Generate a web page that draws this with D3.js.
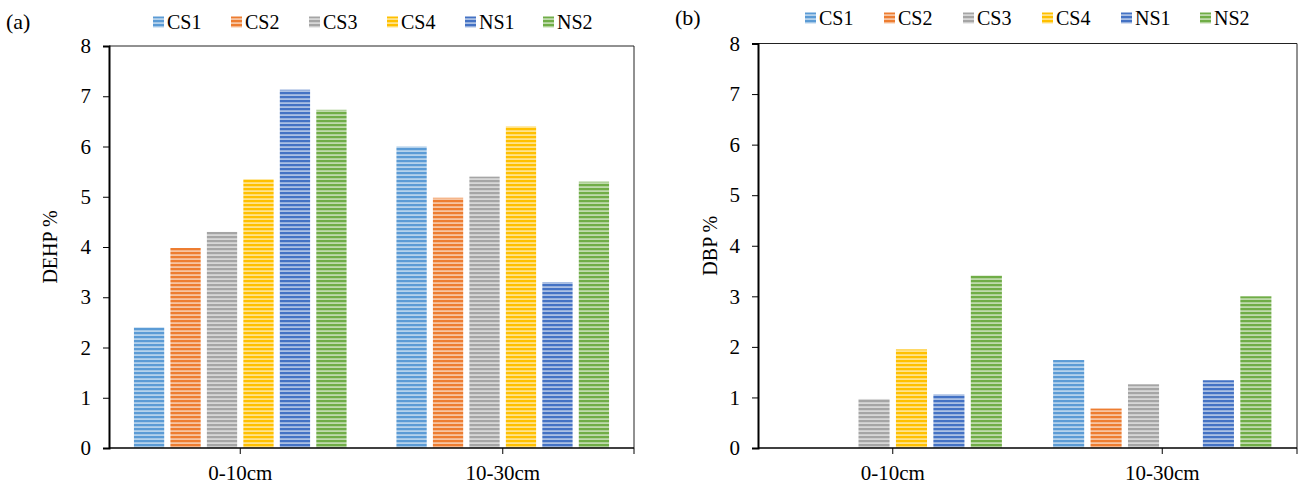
<!DOCTYPE html>
<html>
<head>
<meta charset="utf-8">
<style>
  body { margin: 0; background: #fff; }
  svg text { font-family: "Liberation Serif", "Times New Roman", serif; fill: #000; }
</style>
</head>
<body>
<div id="chart"></div>
<script src="https://cdn.jsdelivr.net/npm/d3@7/dist/d3.min.js"></script>
<script>
const series = ['CS1', 'CS2', 'CS3', 'CS4', 'NS1', 'NS2'];
const depths = ['0-10cm', '10-30cm'];
const colors = ['#5B9BD5', '#ED7D31', '#A5A5A5', '#FFC000', '#4472C4', '#70AD47'];
const yTicks = [0, 1, 2, 3, 4, 5, 6, 7, 8];

// values per series, [0-10cm, 10-30cm]
const dehp = {
  CS1: [2.40, 6.00],
  CS2: [3.98, 4.98],
  CS3: [4.30, 5.40],
  CS4: [5.35, 6.40],
  NS1: [7.13, 3.30],
  NS2: [6.73, 5.30]
};
const dbp = {
  CS1: [0, 1.74],
  CS2: [0, 0.78],
  CS3: [0.97, 1.26],
  CS4: [1.95, 0],
  NS1: [1.06, 1.34],
  NS2: [3.41, 3.00]
};

const W = 1299, H = 484;
const svg = d3.select('#chart').append('svg')
  .attr('width', W).attr('height', H);

// stripe patterns
const defs = svg.append('defs');
series.forEach((s, i) => {
  const p = defs.append('pattern')
    .attr('id', 'pat' + i)
    .attr('patternUnits', 'userSpaceOnUse')
    .attr('width', 8).attr('height', 4);
  p.append('rect').attr('width', 8).attr('height', 4)
    .attr('fill', d3.interpolateRgb(colors[i], '#fff')(0.55));
  p.append('rect').attr('width', 8).attr('height', 2.2)
    .attr('fill', colors[i]);
});

function panel(cfg) {
  const g = svg.append('g');
  const x0 = d3.scaleBand().domain(depths)
    .range([cfg.left, cfg.right]).paddingInner(0.19).paddingOuter(0.095);
  const x1 = d3.scaleBand().domain(series)
    .range([0, x0.bandwidth()]).paddingInner(0.17);
  const y = d3.scaleLinear().domain([0, 8]).range([cfg.bottom, cfg.top]);

  // frame top/right
  g.append('path')
    .attr('d', `M${cfg.left},${cfg.top}H${cfg.right}V${cfg.bottom}`)
    .attr('fill', 'none').attr('stroke', '#222').attr('stroke-width', 1);

  // bars
  depths.forEach((dep, di) => {
    g.append('g').selectAll('rect')
      .data(series.map((s, i) => ({ s, i, v: cfg.data[s][di] })).filter(d => d.v > 0))
      .join('rect')
      .attr('x', d => x0(dep) + x1(d.s))
      .attr('width', x1.bandwidth())
      .attr('y', d => y(d.v))
      .attr('height', d => y(0) - y(d.v))
      .attr('fill', d => `url(#pat${d.i})`);
  });

  // y axis
  const yAxis = g.append('g')
    .attr('transform', `translate(${cfg.left},0)`)
    .call(d3.axisLeft(y).tickValues(yTicks).tickSize(6).tickPadding(12));
  yAxis.select('.domain').attr('stroke-width', 2);
  yAxis.selectAll('text')
    .style('font-family', '"Liberation Serif", serif')
    .style('font-size', '21px');

  // x axis
  const xa = g.append('g').attr('transform', `translate(0,${cfg.bottom})`);
  xa.append('line').attr('x1', cfg.left).attr('x2', cfg.right)
    .attr('stroke', '#000').attr('stroke-width', 1.5);
  const tickX = depths.map(d => x0(d) + x0.bandwidth() / 2).concat([cfg.right]);
  xa.selectAll('.tk').data(tickX).join('line')
    .attr('x1', d => d).attr('x2', d => d).attr('y1', 0).attr('y2', 6)
    .attr('stroke', '#000');
  xa.selectAll('.lb').data(depths).join('text')
    .attr('x', d => x0(d) + x0.bandwidth() / 2)
    .attr('y', 32)
    .attr('text-anchor', 'middle')
    .style('font-size', '21px')
    .text(d => d);

  // y title
  g.append('text')
    .attr('transform', `translate(${cfg.titleX},${(cfg.top + cfg.bottom) / 2}) rotate(-90)`)
    .attr('text-anchor', 'middle')
    .style('font-size', '20px')
    .text(cfg.title);

  // panel letter
  g.append('text').attr('x', cfg.letterX).attr('y', cfg.letterY)
    .style('font-size', '22px').text(cfg.letter);

  // legend
  const lg = g.append('g');
  series.forEach((s, i) => {
    const lx = cfg.legX + i * cfg.legStep;
    lg.append('rect').attr('x', lx).attr('y', cfg.legY - 5.5)
      .attr('width', 11).attr('height', 11)
      .attr('fill', `url(#pat${i})`);
    lg.append('text').attr('x', lx + 14).attr('y', cfg.legY + 7)
      .style('font-size', '20px').text(s);
  });
}

panel({
  data: dehp, title: 'DEHP %', letter: '(a)',
  left: 109, right: 634, top: 46, bottom: 448,
  titleX: 57, letterX: 6, letterY: 29,
  legX: 153, legStep: 78, legY: 22
});

panel({
  data: dbp, title: 'DBP %', letter: '(b)',
  left: 758, right: 1297, top: 43.5, bottom: 448,
  titleX: 717, letterX: 675, letterY: 25,
  legX: 805, legStep: 79, legY: 18
});
</script>
</body>
</html>
